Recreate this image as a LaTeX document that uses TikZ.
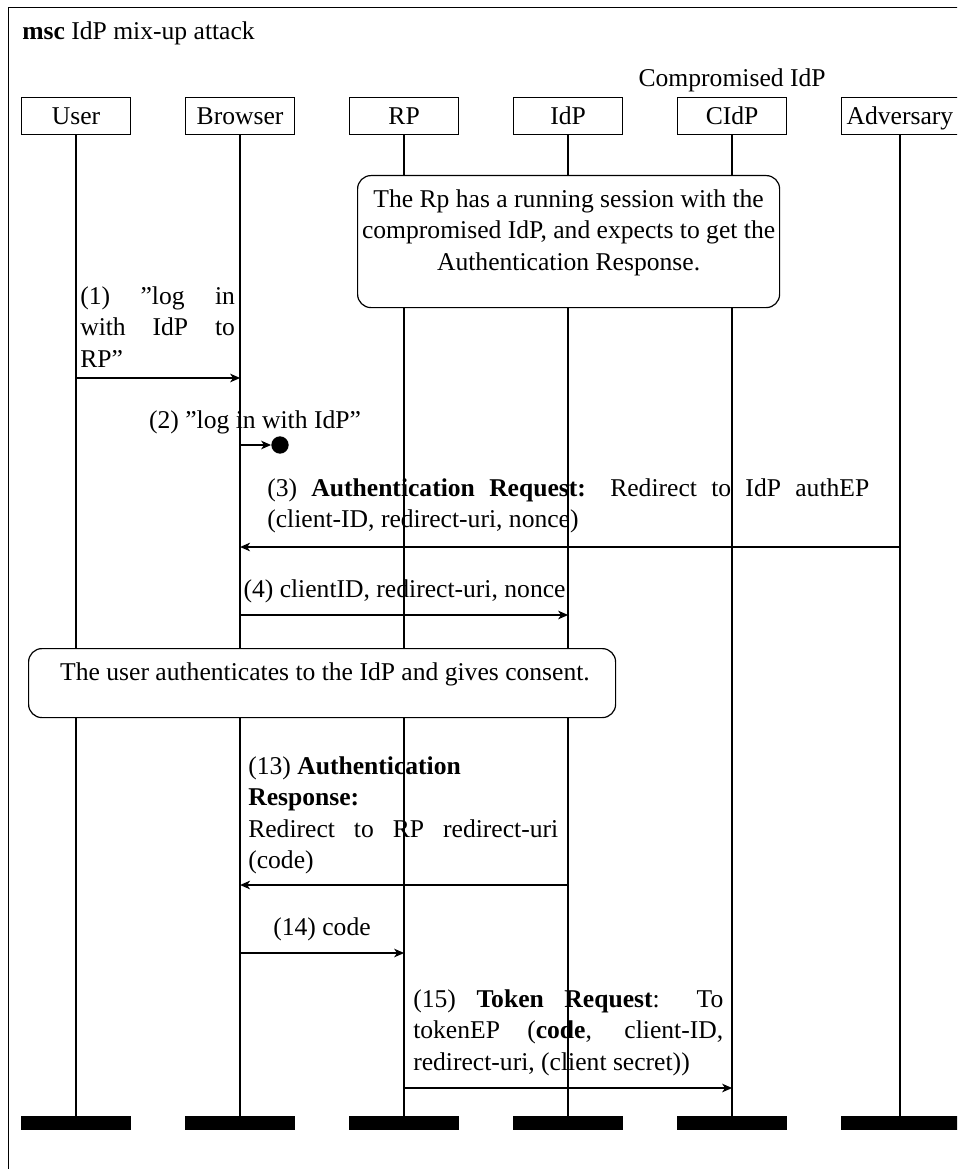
\documentclass[tikz,border=0pt]{standalone}
\usepackage{fontspec}
\setmainfont{Liberation Serif}
\usetikzlibrary{arrows.meta,calc}
\tolerance=9999

\begin{document}
\begin{tikzpicture}[x=0.75pt,y=-0.75pt,
  font=\fontsize{19.2}{23.6}\selectfont,
  inst/.style={draw, line width=0.9pt, minimum width=81.75pt, minimum height=27.75pt,
    inner xsep=3.75pt, inner ysep=0pt, anchor=north west, text height=14pt, text depth=2pt},
  instbar/.style={fill=black, draw=none, inner sep=0pt, minimum height=10.5pt},
  lifeline/.style={line width=1pt},
  msg/.style={line width=0.9pt, -{Stealth[length=7.5pt,width=6.5pt,inset=2.2pt]}},
  note/.style={draw, fill=white, line width=0.9pt, rounded corners=10pt, inner sep=0pt,
    anchor=north west},
  lbl/.style={inner sep=0pt, anchor=north west, align=justify},
  plain/.style={inner sep=0pt, anchor=base}
]
\useasboundingbox (0,0) rectangle (957,1169);
\clip (0,0) rectangle (957,1169);

% enclosing msc frame
\node[draw, line width=1pt, anchor=north west, minimum width=800pt, minimum height=900pt]
  (frame) at (8,7) {};
\node[inner sep=0pt, anchor=base west] (title) at (22,40) {\textbf{msc} IdP mix-up attack};

% instances
\node[inst] (user)    at (21,97)  {User};
\node[inst] (browser) at (185,97) {Browser};
\node[inst] (rp)      at (349,97) {RP};
\node[inst] (idp)     at (513,97) {IdP};
\node[inst] (cidp)    at (677,97) {CIdP};
\node[inst] (adv)     at (841,97) {Adversary};
\node[plain] (cidplabel) at (cidp.north |- 0,87) {Compromised IdP};

% instance ends
\node[instbar, minimum width=82.5pt] (userE)    at (user.south |- 0,1123) {};
\node[instbar, minimum width=82.5pt] (browserE) at (browser.south |- 0,1123) {};
\node[instbar, minimum width=82.5pt] (rpE)      at (rp.south |- 0,1123) {};
\node[instbar, minimum width=82.5pt] (idpE)     at (idp.south |- 0,1123) {};
\node[instbar, minimum width=82.5pt] (cidpE)    at (cidp.south |- 0,1123) {};
\node[instbar, minimum width=88.5pt] (advE)     at (adv.south |- 0,1123) {};

% lifelines
\foreach \i in {user,browser,rp,idp,cidp,adv}
  \draw[lifeline] (\i.south) -- (\i E.north);

% condition: running session with the compromised IdP
\node[note, minimum width=316.5pt, minimum height=99pt] (n1) at (357,175) {};
\node[inner sep=0pt, anchor=north, align=center] (n1t) at (n1.north |- 0,185)
  {\strut The Rp has a running session with the\\
   compromised IdP, and expects to get the\\
   Authentication Response.};

% (1)
\coordinate (m1a) at (user.south |- 0,378);
\coordinate (m1b) at (browser.south |- 0,378);
\draw[msg] (m1a) -- (m1b);
\node[lbl, text width=116pt] (l1) at (80,282)
  {\strut(1) ''log in\linebreak with IdP to\linebreak RP''};

% (2) lost message
\node[circle, fill=black, inner sep=0pt, minimum size=13pt] (lost) at (280,445) {};
\coordinate (m2a) at (browser.south |- 0,445);
\draw[msg] (m2a) -- (lost);
\node[plain] (l2) at (255,428) {(2) ''log in with IdP''};

% (3)
\coordinate (m3a) at (adv.south |- 0,547);
\coordinate (m3b) at (browser.south |- 0,547);
\draw[msg] (m3a) -- (m3b);
\node[lbl, text width=451.5pt] (l3) at (267,474)
  {\strut(3) \textbf{Authentication Request:} Redirect to IdP authEP\linebreak
   (client-ID, redirect-uri, nonce)};

% (4)
\coordinate (m4a) at (browser.south |- 0,615);
\coordinate (m4b) at (idp.south |- 0,615);
\draw[msg] (m4a) -- (m4b);
\node[plain] (l4) at (404.5,597) {(4) clientID, redirect-uri, nonce};

% user authentication
\node[note, minimum width=440.25pt, minimum height=51.75pt] (n2) at (28,648) {};
\node[plain] (n2t) at (325,680) {The user authenticates to the IdP and gives consent.};

% (13)
\coordinate (m13a) at (idp.south |- 0,885);
\coordinate (m13b) at (browser.south |- 0,885);
\draw[msg] (m13a) -- (m13b);
\node[lbl, text width=232.5pt] (l13) at (248,752)
  {\strut(13) \textbf{Authentication}\\
   \textbf{Response:}\\
   Redirect to RP redirect-uri\linebreak (code)};

% (14)
\coordinate (m14a) at (browser.south |- 0,953);
\coordinate (m14b) at (rp.south |- 0,953);
\draw[msg] (m14a) -- (m14b);
\node[plain] (l14) at (322,935) {(14) code};

% (15)
\coordinate (m15a) at (rp.south |- 0,1088);
\coordinate (m15b) at (cidp.south |- 0,1088);
\draw[msg] (m15a) -- (m15b);
\node[lbl, text width=232.5pt] (l15) at (413,985)
  {\strut(15) \textbf{Token Request}: To\linebreak
   tokenEP (\textbf{code}, client-ID,\linebreak
   redirect-uri, (client secret))};
\end{tikzpicture}
\end{document}
